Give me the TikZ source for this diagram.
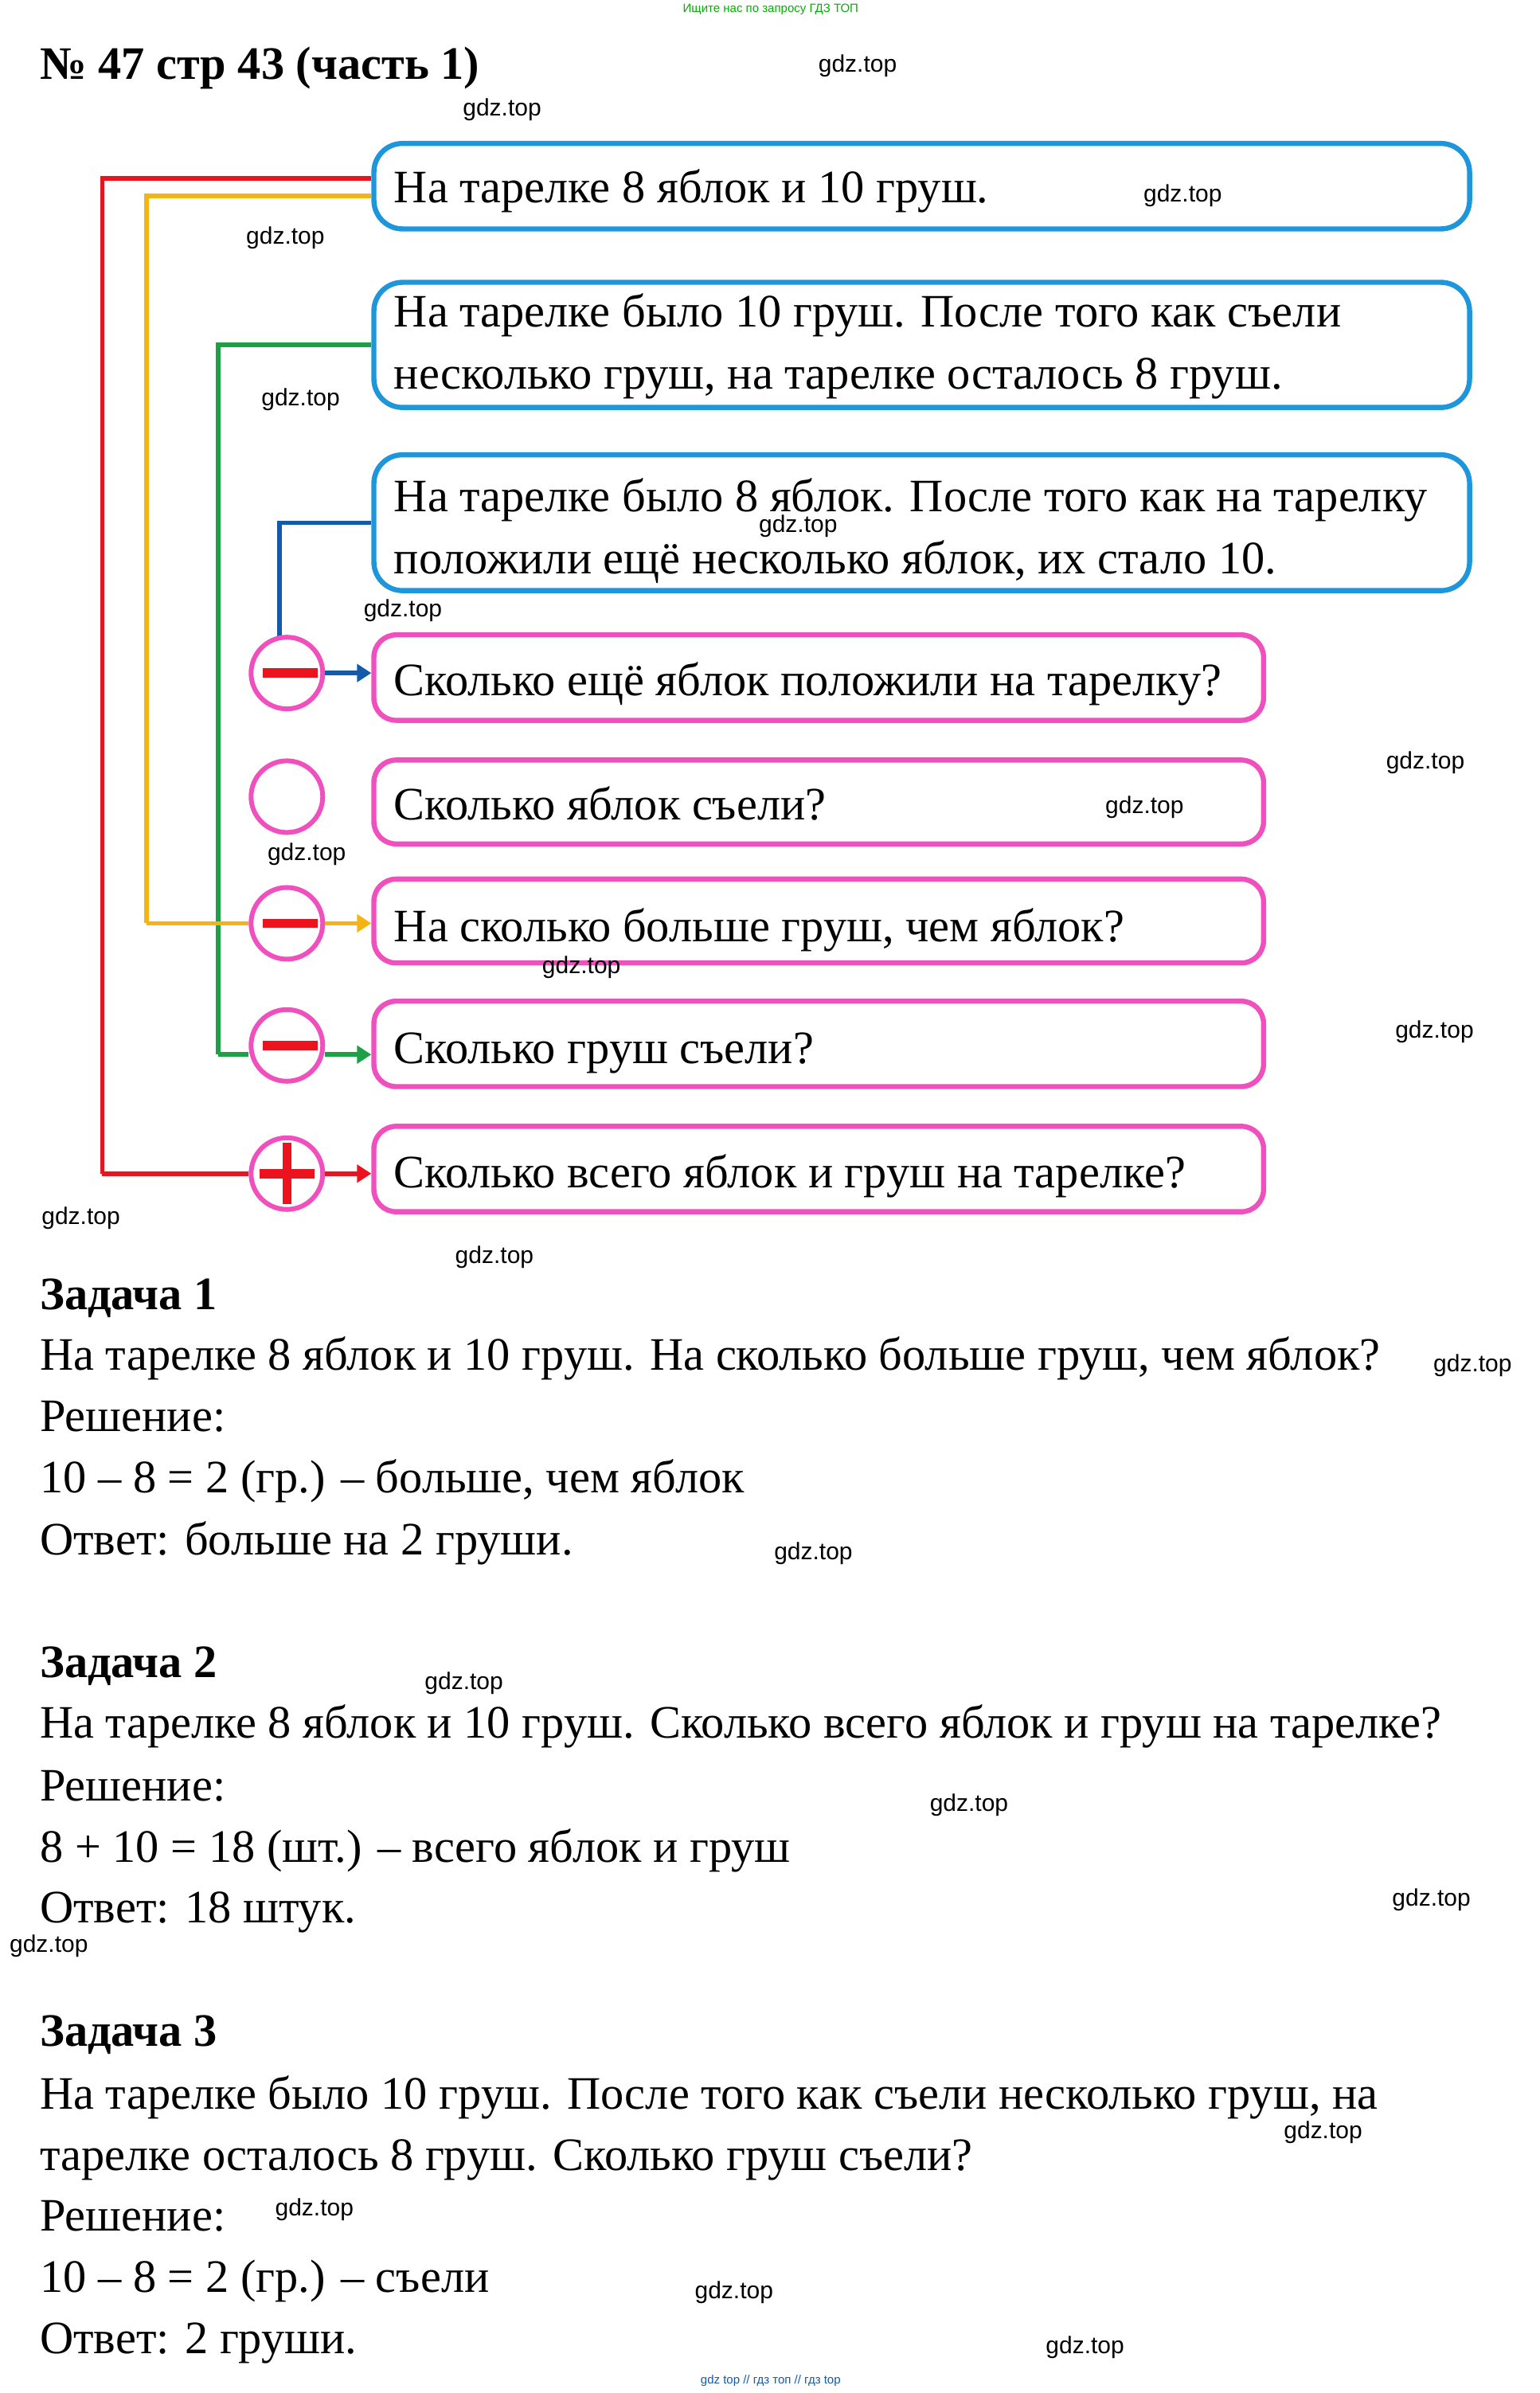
\documentclass[tikz,border=0pt]{standalone}
\usepackage{fontspec}
\setmainfont{Liberation Serif}
\newfontfamily\wm{Liberation Sans}
\usetikzlibrary{fit,arrows.meta}
\definecolor{bbl}{RGB}{30,150,220}
\definecolor{pnk}{RGB}{240,80,190}
\definecolor{rd}{RGB}{235,20,30}
\definecolor{yl}{RGB}{245,180,20}
\definecolor{gr}{RGB}{30,160,70}
\definecolor{bl}{RGB}{20,90,170}
\begin{document}
\begin{tikzpicture}[x=0.9584pt,y=-0.9584pt,
  bluebox/.style={draw=bbl,line width=3.2pt,rounded corners=18pt,inner sep=0pt},
  pinkbox/.style={draw=pnk,line width=3.2pt,rounded corners=14pt,inner sep=0pt},
  circ/.style={circle,draw=pnk,line width=3pt,minimum size=45pt,inner sep=0pt},
  txt/.style={anchor=base west,inner sep=0pt,font=\fontsize{29.2}{34}\selectfont},
  bt/.style={anchor=base west,inner sep=0pt,font=\fontsize{29.2}{34}\selectfont\bfseries},
  wmk/.style={inner sep=0pt,font=\wm\fontsize{15}{18}\selectfont},
  con/.style={line width=2.8pt},
  arr/.style={line width=2.8pt,-{Triangle[length=9pt,width=11pt]}},
  bar/.style={draw=none,fill=rd}]
\useasboundingbox (0,0) rectangle (1009,1568);
\fill[white] (0,0) rectangle (1009,1568);
\node[inner sep=0pt,font=\wm\fontsize{7.5}{9}\selectfont,text=green!70!black] (top) at (505,6) {Ищите нас по запросу ГДЗ ТОП};
\node[bt] (title) at (26,52) {№ 47 стр 43 (часть 1)};
% boxes
\node[bluebox,fit={(245,94)(963,150)}] (b1) {};
\node[bluebox,fit={(245,185)(963,267)}] (b2) {};
\node[bluebox,fit={(245,298)(963,387)}] (b3) {};
\node[pinkbox,fit={(245,416)(828,472)}] (p1) {};
\node[pinkbox,fit={(245,498)(828,553)}] (p2) {};
\node[pinkbox,fit={(245,576)(828,631)}] (p3) {};
\node[pinkbox,fit={(245,656)(828,712)}] (p4) {};
\node[pinkbox,fit={(245,738)(828,794)}] (p5) {};
\node[txt] (t1) at (258,133) {На тарелке 8 яблок и 10 груш.};
\node[txt] (t2a) at (258,214) {На тарелке было 10 груш. После того как съели};
\node[txt] (t2b) at (258,255) {несколько груш, на тарелке осталось 8 груш.};
\node[txt] (t3a) at (258,335) {На тарелке было 8 яблок. После того как на тарелку};
\node[txt] (t3b) at (258,376) {положили ещё несколько яблок, их стало 10.};
\node[txt] (q1) at (258,456) {Сколько ещё яблок положили на тарелку?};
\node[txt] (q2) at (258,537) {Сколько яблок съели?};
\node[txt] (q3) at (258,617) {На сколько больше груш, чем яблок?};
\node[txt] (q4) at (258,697) {Сколько груш съели?};
\node[txt] (q5) at (258,778) {Сколько всего яблок и груш на тарелке?};
% connectors (behind circles)
\coordinate (rc) at (67,769);
\coordinate (yc) at (96,605);
\coordinate (gc) at (143,691);
\draw[con,rd] ([yshift=5pt]b1.west) -| (rc);
\draw[con,yl] ([yshift=-6pt]b1.west) -| (yc);
\draw[con,gr] (b2.west) -| (gc);
\draw[con,bl] (b3.west) -| (183,420);
% circles
\node[circ,fill=white] (c1) at (188,441) {};
\node[circ,fill=white] (c2) at (188,522) {};
\node[circ,fill=white] (c3) at (188,605) {};
\node[circ,fill=white] (c4) at (188,685) {};
\node[circ,fill=white] (c5) at (188,769) {};
\draw[con,rd] (rc) -- (c5.west);
\draw[con,yl] (yc) -- (c3.west);
\draw[con,gr] (gc) -- (c4.west |- gc);
\fill[rd] (172,438) rectangle (208,444);
\fill[rd] (172,602) rectangle (208,608);
\fill[rd] (172,682) rectangle (208,688);
\fill[rd] (170,766) rectangle (206,772);
\fill[rd] (185,749) rectangle (191,789);
\draw[arr,bl] (c1.east) -- (p1.west |- c1.east);
\draw[arr,yl] (c3.east) -- (p3.west |- c3.east);
\draw[arr,gr] (c4.east |- gc) -- (p4.west |- gc);
\draw[arr,rd] (c5.east) -- (p5.west |- c5.east);
% tasks
\node[bt] (z1) at (26,858) {Задача 1};
\node[txt] (z1a) at (26,898) {На тарелке 8 яблок и 10 груш. На сколько больше груш, чем яблок?};
\node[txt] (z1b) at (26,938) {Решение:};
\node[txt] (z1c) at (26,978) {10 – 8 = 2 (гр.) – больше, чем яблок};
\node[txt] (z1d) at (26,1019) {Ответ: больше на 2 груши.};
\node[bt] (z2) at (26,1099) {Задача 2};
\node[txt] (z2a) at (26,1139) {На тарелке 8 яблок и 10 груш. Сколько всего яблок и груш на тарелке?};
\node[txt] (z2b) at (26,1180) {Решение:};
\node[txt] (z2c) at (26,1220) {8 + 10 = 18 (шт.) – всего яблок и груш};
\node[txt] (z2d) at (26,1260) {Ответ: 18 штук.};
\node[bt] (z3) at (26,1341) {Задача 3};
\node[txt] (z3a) at (26,1382) {На тарелке было 10 груш. После того как съели несколько груш, на};
\node[txt] (z3b) at (26,1422) {тарелке осталось 8 груш. Сколько груш съели?};
\node[txt] (z3c) at (26,1462) {Решение:};
\node[txt] (z3d) at (26,1502) {10 – 8 = 2 (гр.) – съели};
\node[txt] (z3e) at (26,1542) {Ответ: 2 груши.};
% watermarks
\foreach \x/\y [count=\i] in {562/43,329/72,775/128,187/156,197/262,523/345,264/400,934/500,750/529,201/560,381/634,940/676,53/798,324/824,965/895,533/1018,304/1103,635/1183,938/1245,32/1275,867/1397,206/1448,481/1502,711/1538}
  \node[wmk] (w\i) at (\x,\y) {gdz.top};
\node[inner sep=0pt,font=\wm\fontsize{7.5}{9}\selectfont,text=bl] (bot) at (505,1560) {gdz top // гдз топ // гдз top};
\end{tikzpicture}
\end{document}
